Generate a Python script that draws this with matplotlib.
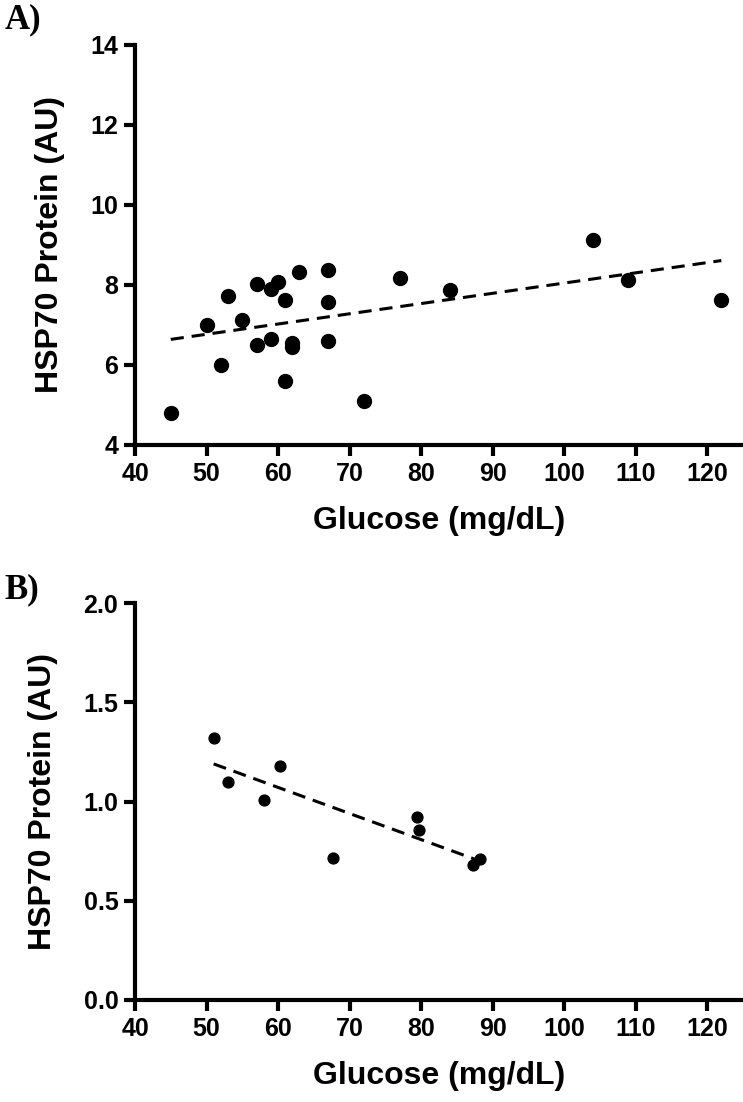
import matplotlib
matplotlib.use("Agg")
import matplotlib.pyplot as plt

# panel A: glucose vs HSP70 protein
glu_a = [45, 50, 52, 53, 55, 57, 57, 59, 59, 60, 61, 61, 62, 62, 63,
         67, 67, 67, 72, 77, 84, 104, 109, 122]
hsp_a = [4.8, 7.0, 6.0, 7.72, 7.13, 8.02, 6.5, 7.9, 6.66, 8.07, 7.63, 5.6, 6.56, 6.46, 8.33,
         8.38, 7.57, 6.61, 5.1, 8.17, 7.88, 9.13, 8.13, 7.63]
fit_a_x = [45, 122]
fit_a_y = [6.64, 8.61]

# panel B
glu_b = [51, 53, 58, 60.3, 67.7, 79.5, 79.7, 87.3, 88.2]
hsp_b = [1.32, 1.10, 1.01, 1.18, 0.715, 0.92, 0.855, 0.68, 0.71]
fit_b_x = [51, 87.5]
fit_b_y = [1.19, 0.71]

xticks = [40, 50, 60, 70, 80, 90, 100, 110, 120]
yticks_a = [4, 6, 8, 10, 12, 14]
yticks_b = [0.0, 0.5, 1.0, 1.5, 2.0]

plt.rcParams['font.family'] = ['Liberation Sans', 'DejaVu Sans']
plt.rcParams['font.weight'] = 'bold'

fig = plt.figure(figsize=(7.43, 11.02), dpi=100)
ax_a = fig.add_axes([0.1817, 0.5962, 0.818, 0.363])
ax_b = fig.add_axes([0.1817, 0.0926, 0.818, 0.360])


def style(ax, yticks, fmt):
    for s in ['top', 'right']:
        ax.spines[s].set_visible(False)
    for s in ['left', 'bottom']:
        ax.spines[s].set_linewidth(3)
    ax.tick_params(width=3, length=8, labelsize=18, pad=4)
    ax.set_xlim(40, 125)
    ax.set_xticks(xticks)
    ax.set_yticks(yticks)
    ax.set_yticklabels([fmt % v for v in yticks])
    for lab in ax.get_xticklabels() + ax.get_yticklabels():
        lab.set_fontweight('bold')
    ax.set_xlabel('Glucose (mg/dL)', fontsize=23, fontweight='bold', labelpad=15)
    ax.set_ylabel('HSP70 Protein (AU)', fontsize=23, fontweight='bold', labelpad=18)


ax_a.plot(glu_a, hsp_a, 'o', color='black', markersize=10, clip_on=False)
ax_a.plot(fit_a_x, fit_a_y, color='black', lw=2.2, dashes=(4.3, 2.6))
ax_a.set_ylim(4, 14)
style(ax_a, yticks_a, '%d')

ax_b.plot(glu_b, hsp_b, 'o', color='black', markersize=7.8, clip_on=False)
ax_b.plot(fit_b_x, fit_b_y, color='black', lw=2.2, dashes=(4.3, 2.6))
ax_b.set_ylim(0, 2)
style(ax_b, yticks_b, '%.1f')

fig.text(0.006, 0.997, 'A)', family='Liberation Serif', fontsize=25, fontweight='bold', va='top')
fig.text(0.006, 0.48, 'B)', family='Liberation Serif', fontsize=25, fontweight='bold', va='top')

fig.savefig('out.png', dpi=100)
